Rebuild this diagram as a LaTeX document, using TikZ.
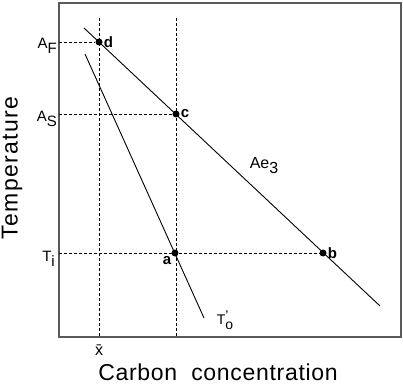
\documentclass[tikz,border=0pt]{standalone}
\usepackage{fontspec}
\setmainfont{Liberation Sans}
\tikzset{
  guide/.style={densely dashed, line width=0.6pt},
  curve/.style={line width=0.9pt},
  dot/.style={circle, fill, inner sep=0pt, minimum size=7pt},
  pt/.style={font=\bfseries\fontsize{15}{15}\selectfont, inner sep=1pt},
  tick/.style={font=\fontsize{15}{15}\selectfont, inner sep=1pt},
  axislabel/.style={font=\fontsize{23}{23}\selectfont\addfontfeature{LetterSpace=3}}
}
\newcommand{\lowsub}[2]{#1\raisebox{-5pt}{#2}}
\begin{document}
\begin{tikzpicture}[x=1pt,y=-1pt]
            \useasboundingbox (0,0) rectangle (403,387);
			\draw[line width=1.5pt, black!65] (59,3) rectangle (401,337);
			\coordinate (P1) at (84,28);
            \coordinate (P2) at (380,306);
            \coordinate (Q1) at (85,54);
            \coordinate (Q2) at (204,318);
			\node[dot] (d) at (99,42) {};
			\node[dot] (c) at (176,114) {};
			\node[dot] (b) at (323,253) {};
			\node[dot] (a) at (175,253) {};
			\coordinate (XT) at (99,18);
			\coordinate (XB) at (99,337);
			\coordinate (CT) at (176,18);
			\coordinate (CB) at (176,337);
			\coordinate (AF) at (59,42);
			\coordinate (AS) at (59,114);
			\coordinate (TI) at (59,253);
			% guide lines
			\draw[guide] (XT) -- (XB);
			\draw[guide] (CT) -- (CB);
			\draw[guide] (AF) -- (d);
			\draw[guide] (AS) -- (c);
			\draw[guide] (TI) -- (b);
			\draw[curve] (P1) -- (P2);
			\draw[curve] (Q1) -- (Q2);
			\node[pt, right] (dl) at (d.east) {d};
			\node[pt, right] (cl) at (c.east) {c};
			\node[pt, right] (bl) at (b.east) {b};
			\node[pt, below left] (al) at (a.south west) {a};
			\node[tick, left] (afl) at (58,46) {\lowsub{A}{F}};
			\node[tick, left] (asl) at (58,119) {\lowsub{A}{S}};
			\node[tick, left] (til) at (56,259) {\lowsub{T}{i}};
			\node[tick, font=\fontsize{16}{16}\selectfont] (xl) at (99,350) {x̄};
			\node[font=\fontsize{16}{16}\selectfont] (ae) at (264,166) {\lowsub{Ae}{3}};
			\node[font=\fontsize{14}{14}\selectfont] (to) at (225,320) {T\rlap{\raisebox{4pt}{'}}\raisebox{-5pt}{o}};
			\node[axislabel] (xlab) at (218,372) {Carbon\ \ concentration};
			\node[axislabel, rotate=90, font=\fontsize{23}{23}\selectfont\addfontfeature{LetterSpace=6}] (ylab) at (12,168) {Temperature};
		\end{tikzpicture}
\end{document}
